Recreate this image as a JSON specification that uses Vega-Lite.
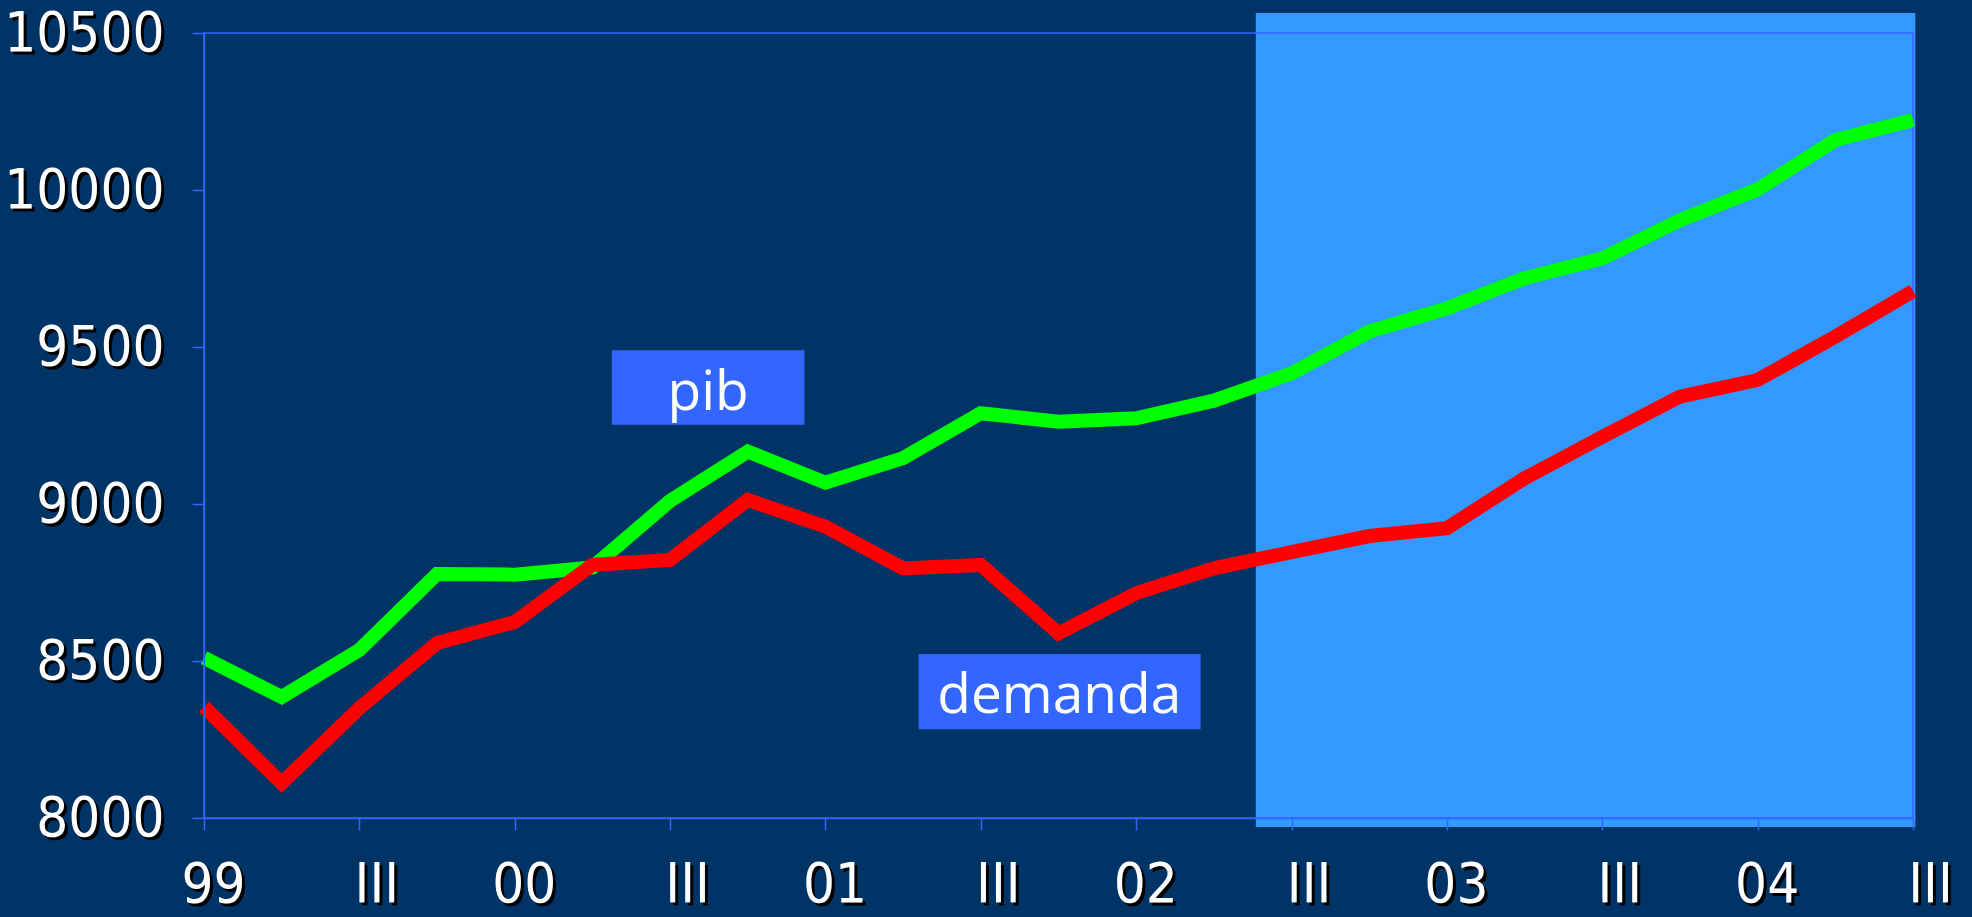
{
  "$schema": "https://vega.github.io/schema/vega-lite/v6.json",
  "width": 1709,
  "height": 785,
  "autosize": {"type": "none"},
  "padding": {"left": 204, "top": 33, "right": 59, "bottom": 99},
  "background": "#003366",
  "config": {"view": {"stroke": null}, "axis": {"grid": false}},
  "datasets": {
    "serie": [
      {"i": 0, "trimestre": "1999-I", "serie": "pib", "valor": 8510},
      {"i": 1, "trimestre": "1999-II", "serie": "pib", "valor": 8385},
      {"i": 2, "trimestre": "1999-III", "serie": "pib", "valor": 8535},
      {"i": 3, "trimestre": "1999-IV", "serie": "pib", "valor": 8777},
      {"i": 4, "trimestre": "2000-I", "serie": "pib", "valor": 8775},
      {"i": 5, "trimestre": "2000-II", "serie": "pib", "valor": 8798},
      {"i": 6, "trimestre": "2000-III", "serie": "pib", "valor": 9010},
      {"i": 7, "trimestre": "2000-IV", "serie": "pib", "valor": 9167},
      {"i": 8, "trimestre": "2001-I", "serie": "pib", "valor": 9068},
      {"i": 9, "trimestre": "2001-II", "serie": "pib", "valor": 9146},
      {"i": 10, "trimestre": "2001-III", "serie": "pib", "valor": 9289},
      {"i": 11, "trimestre": "2001-IV", "serie": "pib", "valor": 9262},
      {"i": 12, "trimestre": "2002-I", "serie": "pib", "valor": 9273},
      {"i": 13, "trimestre": "2002-II", "serie": "pib", "valor": 9329},
      {"i": 14, "trimestre": "2002-III", "serie": "pib", "valor": 9416},
      {"i": 15, "trimestre": "2002-IV", "serie": "pib", "valor": 9549},
      {"i": 16, "trimestre": "2003-I", "serie": "pib", "valor": 9623},
      {"i": 17, "trimestre": "2003-II", "serie": "pib", "valor": 9719},
      {"i": 18, "trimestre": "2003-III", "serie": "pib", "valor": 9782},
      {"i": 19, "trimestre": "2003-IV", "serie": "pib", "valor": 9904},
      {"i": 20, "trimestre": "2004-I", "serie": "pib", "valor": 10002},
      {"i": 21, "trimestre": "2004-II", "serie": "pib", "valor": 10159},
      {"i": 22, "trimestre": "2004-III", "serie": "pib", "valor": 10223},
      {"i": 0, "trimestre": "1999-I", "serie": "demanda", "valor": 8354},
      {"i": 1, "trimestre": "1999-II", "serie": "demanda", "valor": 8111},
      {"i": 2, "trimestre": "1999-III", "serie": "demanda", "valor": 8350},
      {"i": 3, "trimestre": "1999-IV", "serie": "demanda", "valor": 8557},
      {"i": 4, "trimestre": "2000-I", "serie": "demanda", "valor": 8624},
      {"i": 5, "trimestre": "2000-II", "serie": "demanda", "valor": 8806},
      {"i": 6, "trimestre": "2000-III", "serie": "demanda", "valor": 8822},
      {"i": 7, "trimestre": "2000-IV", "serie": "demanda", "valor": 9013},
      {"i": 8, "trimestre": "2001-I", "serie": "demanda", "valor": 8928},
      {"i": 9, "trimestre": "2001-II", "serie": "demanda", "valor": 8795},
      {"i": 10, "trimestre": "2001-III", "serie": "demanda", "valor": 8806},
      {"i": 11, "trimestre": "2001-IV", "serie": "demanda", "valor": 8588},
      {"i": 12, "trimestre": "2002-I", "serie": "demanda", "valor": 8716},
      {"i": 13, "trimestre": "2002-II", "serie": "demanda", "valor": 8795},
      {"i": 14, "trimestre": "2002-III", "serie": "demanda", "valor": 8847},
      {"i": 15, "trimestre": "2002-IV", "serie": "demanda", "valor": 8898},
      {"i": 16, "trimestre": "2003-I", "serie": "demanda", "valor": 8923},
      {"i": 17, "trimestre": "2003-II", "serie": "demanda", "valor": 9082},
      {"i": 18, "trimestre": "2003-III", "serie": "demanda", "valor": 9214},
      {"i": 19, "trimestre": "2003-IV", "serie": "demanda", "valor": 9342},
      {"i": 20, "trimestre": "2004-I", "serie": "demanda", "valor": 9395},
      {"i": 21, "trimestre": "2004-II", "serie": "demanda", "valor": 9533},
      {"i": 22, "trimestre": "2004-III", "serie": "demanda", "valor": 9678}
    ],
    "etiquetas": [
      {"texto": "pib", "x0": 5.25, "x1": 7.73, "y0": 9252, "y1": 9490, "xt": 6.49, "yt": 9299},
      {"texto": "demanda", "x0": 9.2, "x1": 12.83, "y0": 8283, "y1": 8522, "xt": 11.01, "yt": 8334}
    ]
  },
  "layer": [
    {
      "data": {"values": [{"desde": 13.54, "hasta": 22.03, "inf": 7971, "sup": 10564}]},
      "mark": {"type": "rect", "color": "#3399FF"},
      "encoding": {
        "x": {"field": "desde", "type": "quantitative", "scale": {"domain": [0, 22], "nice": false, "zero": false}, "axis": null},
        "x2": {"field": "hasta"},
        "y": {"field": "inf", "type": "quantitative", "scale": {"domain": [8000, 10500], "nice": false, "zero": false}, "axis": null},
        "y2": {"field": "sup"}
      }
    },
    {
      "data": {"values": [{"a": 0, "b": 22, "c": 8000, "d": 10500}]},
      "mark": {"type": "rect", "fill": null, "fillOpacity": 0, "stroke": "#3366FF", "strokeWidth": 1.5},
      "encoding": {
        "x": {"field": "a", "type": "quantitative", "scale": {"domain": [0, 22], "nice": false, "zero": false},
          "axis": {"orient": "bottom", "values": [0, 2, 4, 6, 8, 10, 12, 14, 16, 18, 20, 22], "title": null, "domain": false, "tickOpacity": 0, "tickSize": 12,
            "labelColor": "#000000", "labelFont": "DejaVu Sans Condensed, DejaVu Sans, sans-serif", "labelFontSize": 56, "labelPadding": 30,
            "labelOffset": {"condition": {"test": "datum.value % 4 == 0", "value": 12}, "value": 20},
            "labelFlush": false, "labelOverlap": false, "labelBound": false, "zindex": 1,
            "labelExpr": "datum.value % 4 == 0 ? ['99','00','01','02','03','04'][datum.value / 4] : 'III'"}},
        "x2": {"field": "b"},
        "y": {"field": "c", "type": "quantitative", "scale": {"domain": [8000, 10500], "nice": false, "zero": false},
          "axis": {"orient": "left", "values": [8000, 8500, 9000, 9500, 10000, 10500], "title": null, "domain": false, "tickOpacity": 0, "tickSize": 12,
            "labelColor": "#000000", "labelFont": "DejaVu Sans Condensed, DejaVu Sans, sans-serif", "labelFontSize": 56, "labelPadding": 25, "labelOffset": 3,
            "labelFlush": false, "labelOverlap": false, "labelBound": false, "zindex": 1, "format": "d"}},
        "y2": {"field": "d"}
      }
    },
    {
      "data": {"name": "etiquetas"},
      "mark": {"type": "rect", "color": "#3366FF"},
      "encoding": {
        "x": {"field": "x0", "type": "quantitative", "scale": {"domain": [0, 22], "nice": false, "zero": false}, "axis": null},
        "x2": {"field": "x1"},
        "y": {"field": "y0", "type": "quantitative", "scale": {"domain": [8000, 10500], "nice": false, "zero": false}, "axis": null},
        "y2": {"field": "y1"}
      }
    },
    {
      "data": {"name": "serie"},
      "transform": [{"filter": "datum.serie == 'pib'"}],
      "mark": {"type": "line", "color": "#00FF00", "strokeWidth": 14, "strokeCap": "butt", "strokeJoin": "miter"},
      "encoding": {
        "x": {"field": "i", "type": "quantitative", "scale": {"domain": [0, 22], "nice": false, "zero": false},
          "axis": {"orient": "bottom", "values": [0, 2, 4, 6, 8, 10, 12, 14, 16, 18, 20, 22], "title": null, "domainColor": "#3366FF", "domainWidth": 1.5, "tickColor": "#3366FF", "tickWidth": 1.5, "tickSize": 12,
            "labelColor": "#FFFFFF", "labelFont": "DejaVu Sans Condensed, DejaVu Sans, sans-serif", "labelFontSize": 56, "labelPadding": 27,
            "labelOffset": {"condition": {"test": "datum.value % 4 == 0", "value": 9}, "value": 17},
            "labelFlush": false, "labelOverlap": false, "labelBound": false, "zindex": 2,
            "labelExpr": "datum.value % 4 == 0 ? ['99','00','01','02','03','04'][datum.value / 4] : 'III'"}},
        "y": {"field": "valor", "type": "quantitative", "scale": {"domain": [8000, 10500], "nice": false, "zero": false},
          "axis": {"orient": "left", "values": [8000, 8500, 9000, 9500, 10000, 10500], "title": null, "domainColor": "#3366FF", "domainWidth": 1.5, "tickColor": "#3366FF", "tickWidth": 1.5, "tickSize": 12,
            "labelColor": "#FFFFFF", "labelFont": "DejaVu Sans Condensed, DejaVu Sans, sans-serif", "labelFontSize": 56, "labelPadding": 28,
            "labelFlush": false, "labelOverlap": false, "labelBound": false, "zindex": 2, "format": "d"}}
      }
    },
    {
      "data": {"name": "serie"},
      "transform": [{"filter": "datum.serie == 'demanda'"}],
      "mark": {"type": "line", "color": "#FF0000", "strokeWidth": 14, "strokeCap": "butt", "strokeJoin": "miter"},
      "encoding": {
        "x": {"field": "i", "type": "quantitative", "scale": {"domain": [0, 22], "nice": false, "zero": false}, "axis": null},
        "y": {"field": "valor", "type": "quantitative", "scale": {"domain": [8000, 10500], "nice": false, "zero": false}, "axis": null}
      }
    },
    {
      "data": {"name": "etiquetas"},
      "mark": {"type": "text", "color": "#FFFFFF", "font": "Open Sans", "fontSize": 55, "align": "center", "baseline": "alphabetic"},
      "encoding": {
        "x": {"field": "xt", "type": "quantitative", "scale": {"domain": [0, 22], "nice": false, "zero": false}, "axis": null},
        "y": {"field": "yt", "type": "quantitative", "scale": {"domain": [8000, 10500], "nice": false, "zero": false}, "axis": null},
        "text": {"field": "texto"}
      }
    }
  ],
  "resolve": {"axis": {"x": "independent", "y": "independent"}}
}
